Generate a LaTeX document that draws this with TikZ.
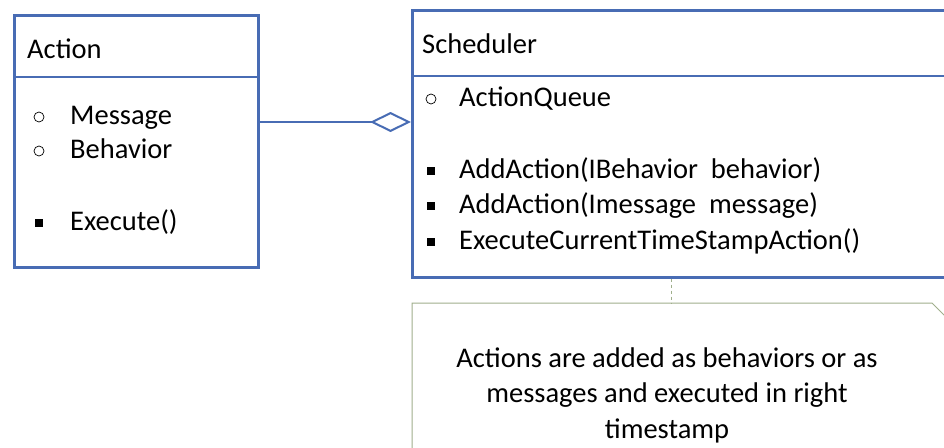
\documentclass[tikz,border=0pt]{standalone}
\usepackage{fontspec}
\setmainfont{Carlito}
\usetikzlibrary{arrows.meta,positioning}
\definecolor{umlblue}{RGB}{72,108,180}
\definecolor{notegreen}{RGB}{160,175,140}

\begin{document}
\begin{tikzpicture}[x=1pt,y=-1pt,
    classbox/.style={draw=umlblue,line width=2.5pt,anchor=north west,inner sep=0pt},
    classline/.style={draw=umlblue,line width=2.5pt},
    member/.style={anchor=base west,inner sep=0pt,font=\fontsize{28.5}{34}\selectfont},
    attrdot/.style={circle,draw=black,line width=0.7pt,minimum size=10pt,inner sep=0pt},
    opdot/.style={rectangle,fill=black,minimum size=8pt,inner sep=0pt},
    assoc/.style={draw=umlblue,line width=2pt,-{Diamond[open,length=41pt,width=20pt,line width=2pt]}},
    noteline/.style={draw=notegreen,line width=1pt}]
    \useasboundingbox (0,0) rectangle (944,447);
    \fill[white] (0,0) rectangle (944,447);
    \clip (0,0) rectangle (944,447);
    % class Action
    \node[classbox,minimum width=244pt,minimum height=252pt] (action) at (13,14) {};
    \draw[classline] (action.west |- 0,77) -- (action.east |- 0,77);
    \node[member] (actionname) at (27,58) {Action};
    \node[member] (msg) at (70,124) {Message};
    \node[member] (beh) at (70,158) {Behavior};
    \node[member] (exec) at (70,230) {Execute()};
    \node[attrdot] at (39,117) {};
    \node[attrdot] at (39,151) {};
    \node[opdot] at (39,223) {};
    % class Scheduler
    \node[classbox,minimum width=560pt,minimum height=267pt] (sched) at (411,9) {};
    \draw[classline] (sched.west |- 0,76) -- (sched.east |- 0,76);
    \node[member] (schedname) at (422,53) {Scheduler};
    \node[member] (queue) at (459,106) {ActionQueue};
    \node[member] (addbeh) at (459,178) {AddAction(IBehavior\ \ behavior)};
    \node[member] (addmsg) at (459,213) {AddAction(Imessage\ \ message)};
    \node[member] (exects) at (459,249) {ExecuteCurrentTimeStampAction()};
    \node[attrdot] at (431,99) {};
    \node[opdot] at (431,171) {};
    \node[opdot] at (431,206) {};
    \node[opdot] at (431,242) {};
    % aggregation
    \coordinate (link) at (0,122);
    \draw[assoc] (action.east |- link) -- (sched.west |- link);
    % note
    \coordinate (notetop) at (671,303);
    \draw[noteline] (412,460) -- (412,303) -- (932,303) -- (955,326);
    \draw[noteline,dashed] (sched.south -| notetop) -- (notetop);
    \node[align=center,inner sep=0pt,font=\fontsize{28.5}{35.5}\selectfont] (note) at (667,395)
      {Actions are added as behaviors or as\\ messages and executed in right\\ timestamp};
\end{tikzpicture}
\end{document}
